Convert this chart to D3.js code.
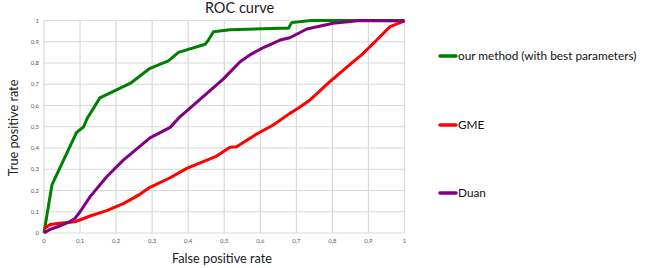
<!DOCTYPE html>
<html>
<head>
<meta charset="utf-8">
<script src="https://cdn.jsdelivr.net/npm/d3@7"></script>
<style>
	body{margin:0;background:#fff;}
	svg{display:block;font-family:Lato,"Open Sans",sans-serif;}
</style>
</head>
<body>
<svg width="647" height="268"></svg>
<script>
// [fpr, tpr] pairs
const ourMethod = [[0,0],[0.022,0.226],[0.09,0.472],[0.11,0.5],[0.12,0.54],[0.155,0.636],[0.24,0.705],[0.294,0.775],[0.345,0.81],[0.373,0.85],[0.447,0.888],[0.456,0.908],[0.47,0.947],[0.516,0.957],[0.655,0.963],[0.678,0.963],[0.687,0.99],[0.74,1],[1,1]];
const gme = [[0,0.02],[0.017,0.04],[0.044,0.046],[0.086,0.053],[0.128,0.08],[0.174,0.105],[0.22,0.138],[0.266,0.182],[0.294,0.215],[0.35,0.26],[0.396,0.304],[0.479,0.362],[0.516,0.403],[0.534,0.406],[0.59,0.466],[0.636,0.508],[0.682,0.563],[0.705,0.587],[0.738,0.626],[0.793,0.712],[0.858,0.806],[0.881,0.838],[0.923,0.908],[0.96,0.971],[0.997,0.996],[1,1]];
const duan = [[0,0],[0.017,0.017],[0.044,0.033],[0.072,0.053],[0.086,0.069],[0.1,0.1],[0.128,0.171],[0.174,0.265],[0.22,0.343],[0.294,0.448],[0.35,0.497],[0.377,0.547],[0.447,0.65],[0.497,0.724],[0.544,0.806],[0.571,0.838],[0.604,0.869],[0.655,0.908],[0.682,0.919],[0.729,0.96],[0.802,0.987],[0.877,1],[1,0.998]];
const seriesNames = ['our method (with best parameters)','GME','Duan'];
const seriesColors = ['#008000','#ff0000','#800080'];
const tickValues = [0,0.1,0.2,0.3,0.4,0.5,0.6,0.7,0.8,0.9,1];

const svg = d3.select('svg');
const x = d3.scaleLinear().domain([0,1]).range([44,404.5]);
const y = d3.scaleLinear().domain([0,1]).range([233,20.5]);
const fmt = d => d===0||d===1 ? String(d) : String(d).replace('.',',');

// grid
svg.append('g').selectAll('line').data(tickValues).join('line')
	.attr('x1',d=>x(d)).attr('x2',d=>x(d)).attr('y1',y(0)).attr('y2',y(1))
	.attr('stroke','#d9d9d9').attr('stroke-width',1.2);
svg.append('g').selectAll('line').data(tickValues).join('line')
	.attr('y1',d=>y(d)).attr('y2',d=>y(d)).attr('x1',x(0)).attr('x2',x(1))
	.attr('stroke','#d9d9d9').attr('stroke-width',1.2);

// tick labels
svg.append('g').selectAll('text').data(tickValues).join('text')
	.attr('x',d=>x(d)).attr('y',y(0)+10)
	.attr('text-anchor','middle').attr('font-size',6).attr('fill','#595959')
	.text(fmt);
svg.append('g').selectAll('text').data(tickValues).join('text')
	.attr('x',x(0)-5).attr('y',d=>y(d)+2)
	.attr('text-anchor','end').attr('font-size',6).attr('fill','#595959')
	.text(fmt);

// curves
const line = d3.line().x(d=>x(d[0])).y(d=>y(d[1]));
[ourMethod,gme,duan].forEach((s,i)=>{
	svg.append('path').datum(s)
		.attr('fill','none').attr('stroke',seriesColors[i])
		.attr('stroke-width',3).attr('stroke-linejoin','round')
		.attr('d',line);
});

// titles
svg.append('text').attr('x',239.5).attr('y',13).attr('text-anchor','middle')
	.attr('font-size',14.5).attr('fill','#222').text('ROC curve');
svg.append('text').attr('x',222).attr('y',263).attr('text-anchor','middle')
	.attr('font-size',12.7).attr('fill','#222').text('False positive rate');
svg.append('text').attr('transform','translate(18,128) rotate(-90)').attr('text-anchor','middle')
	.attr('font-size',12.7).attr('fill','#222').text('True positive rate');

// legend
const legendY = [56,125,193];
const lg = svg.append('g').selectAll('g').data(seriesNames).join('g')
	.attr('transform',(d,i)=>`translate(440,${legendY[i]})`);
lg.append('line').attr('x1',0).attr('x2',16).attr('stroke',(d,i)=>seriesColors[i])
	.attr('stroke-width',3.5).attr('stroke-linecap','round');
lg.append('text').attr('x',18).attr('y',4).attr('font-size',11.8).attr('fill','#111').text(d=>d);
</script>
</body>
</html>
